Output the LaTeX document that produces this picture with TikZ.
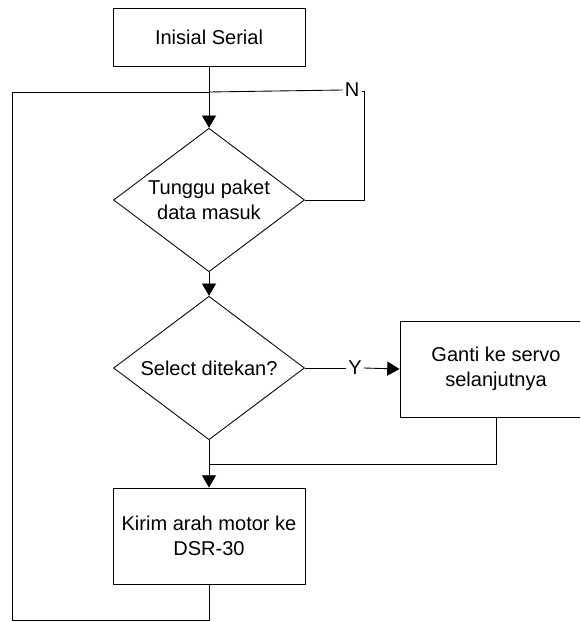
\documentclass[tikz,border=0pt]{standalone}
\usepackage{fontspec}
\setmainfont{Liberation Sans}
\usepackage{tikz}
\usetikzlibrary{arrows,arrows.meta,shapes.geometric}

\tikzset{
  proses/.style={draw, rectangle, line width=0.5pt, minimum width=3.84cm, inner sep=2pt, align=center},
  keputusan/.style={draw, diamond, line width=0.5pt, aspect=1.34, inner sep=0pt, minimum width=3.82cm, minimum height=2.87cm, align=center},
  garis/.style={line width=0.5pt},
  panah/.style={line width=0.5pt, -{Triangle[length=7pt,width=8pt]}}
}

\begin{document}
\begin{tikzpicture}[font=\fontsize{11.4}{14.2}\selectfont]
\clip (0,0) rectangle (11.6,-12.44);
% blok
\node [proses, minimum height=1.16cm] (init) at (4.18,-0.74) {Inisial Serial};
\node [keputusan] (tunggu) at (4.18,-4.0) {Tunggu paket\\data masuk};
\node [keputusan] (select) at (4.18,-7.36) {Select ditekan?};
\node [proses, minimum height=1.92cm] (ganti) at (9.92,-7.38) {Ganti ke servo\\selanjutnya};
\node [proses, minimum height=1.92cm] (kirim) at (4.18,-10.72) {Kirim arah motor ke\\DSR-30};
% label
\node [inner sep=1pt] (n) at (7.04,-1.8) {N};
\node [inner sep=1pt] (y) at (7.1,-7.36) {Y};
% titik bantu
\coordinate (atas) at (4.18,-1.84);
\coordinate (gabung) at (4.18,-9.28);
\coordinate (bawah) at (4.18,-12.4);
\coordinate (kiri) at (0.24,-12.4);
\coordinate (kiriatas) at (0.24,-1.84);
\coordinate (nkanan) at (7.28,-1.82);
% garis
\draw [garis] (init.south) -- (atas);
\draw [panah] (atas) -- (tunggu.north);
\draw [garis] (tunggu.east) -- (tunggu.east -| nkanan) -- (nkanan) -- ++(-0.05,0);
\draw [garis] (n.west) -- (atas);
\draw [panah] (tunggu.south) -- (select.north);
\draw [garis] (select.east) -- (y.west);
\draw [panah] (y.east) -- (ganti.west);
\draw [garis] (ganti.south) |- (gabung);
\draw [garis] (select.south) -- (gabung);
\draw [panah] (gabung) -- (kirim.north);
\draw [garis] (kirim.south) -- (bawah) -- (kiri) -- (kiriatas) -- (atas);
\end{tikzpicture}
\end{document}
